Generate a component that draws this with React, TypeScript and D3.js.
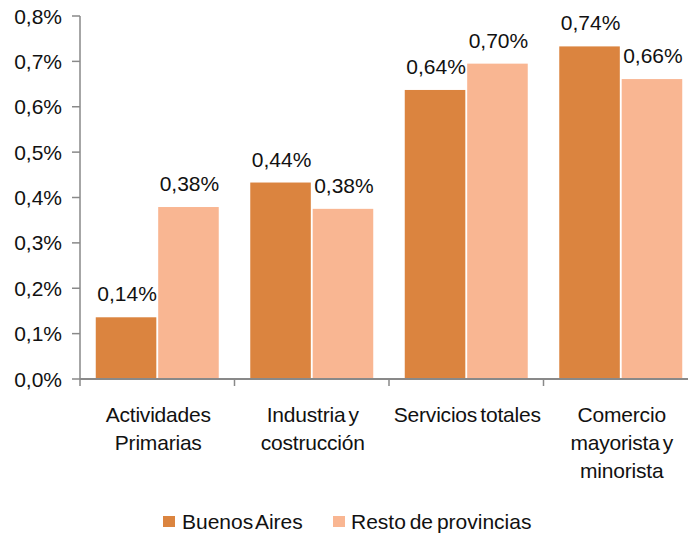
import React from "react";
import * as d3 from "d3";

const categories = ["Actividades Primarias", "Industria y costrucción", "Servicios totales", "Comercio mayorista y minorista"];
const categoryLines = [["Actividades", "Primarias"], ["Industria y", "costrucción"], ["Servicios totales"], ["Comercio", "mayorista y", "minorista"]];
const seriesNames = ["Buenos Aires", "Resto de provincias"];
const buenosAires = [0.136, 0.433, 0.637, 0.733];
const restoProvincias = [0.379, 0.375, 0.695, 0.661];
const buenosAiresLabels = ["0,14%", "0,44%", "0,64%", "0,74%"];
const restoLabels = ["0,38%", "0,38%", "0,70%", "0,66%"];
const yTicks = [0, 0.1, 0.2, 0.3, 0.4, 0.5, 0.6, 0.7, 0.8];
const colors = ["#DB843F", "#F9B692"];

const W = 688, H = 534;
const left = 80, right = 698, top = 16, bottom = 379;
const FONT = "'Liberation Sans', Arial, sans-serif";

export default function App() {
  const y = d3.scaleLinear().domain([0, 0.8]).range([bottom, top]);
  const x0 = d3.scaleBand<string>().domain(categories).range([left, right]).paddingInner(0.204).paddingOuter(0.102);
  const x1 = d3.scaleBand<string>().domain(seriesNames).range([0, x0.bandwidth()]).paddingInner(0.03);
  const series = [buenosAires, restoProvincias];
  const labels = [buenosAiresLabels, restoLabels];
  const step = x0.step();
  const boundaries = d3.range(categories.length).map((i) => left + i * step);
  const fmt = (v: number) => d3.format(".1f")(v * 100 / 100).replace(".", ",") + "%";

  return (
    <svg width={W} height={H} style={{ position: "absolute", left: 0, top: 0, fontFamily: FONT }}>
      <rect x={0} y={0} width={W} height={H} fill="#fff" />
      {categories.map((c, i) => (
        <g key={c} transform={`translate(${x0(c)},0)`}>
          {seriesNames.map((s, j) => {
            const v = series[j][i];
            return (
              <g key={s}>
                <rect x={x1(s)} y={y(v)} width={x1.bandwidth()} height={bottom - y(v)} fill={colors[j]} />
                <text x={(x1(s) as number) + x1.bandwidth() / 2 + 1} y={y(v) - 16} textAnchor="middle" fontSize={21} fill="#111">
                  {labels[j][i]}
                </text>
              </g>
            );
          })}
        </g>
      ))}
      <line x1={left} x2={left} y1={top} y2={bottom} stroke="#898989" strokeWidth={1.5} />
      {yTicks.map((t) => (
        <g key={t}>
          <line x1={left - 8} x2={left} y1={y(t)} y2={y(t)} stroke="#898989" strokeWidth={1.5} />
          <text x={62} y={y(t)} dy="0.36em" textAnchor="end" fontSize={21} fill="#111">
            {fmt(t)}
          </text>
        </g>
      ))}
      <line x1={left} x2={W} y1={bottom} y2={bottom} stroke="#898989" strokeWidth={2} />
      {boundaries.map((b, i) => (
        <line key={i} x1={b} x2={b} y1={bottom} y2={bottom + 7} stroke="#898989" strokeWidth={1.5} />
      ))}
      {categories.map((c, i) => (
        <text key={c} x={(x0(c) as number) + x0.bandwidth() / 2 + 1} y={422} textAnchor="middle" fontSize={21} fill="#111" letterSpacing={-0.2} wordSpacing={-2.5}>
          {categoryLines[i].map((ln, k) => (
            <tspan key={k} x={(x0(c) as number) + x0.bandwidth() / 2 + 1} y={422 + k * 28}>
              {ln}
            </tspan>
          ))}
        </text>
      ))}
      <rect x={163} y={516} width={12} height={11} fill={colors[0]} />
      <text x={182} y={529} fontSize={21} fill="#111" wordSpacing={-3}>{seriesNames[0]}</text>
      <rect x={333} y={516} width={12} height={11} fill={colors[1]} />
      <text x={351} y={529} fontSize={21} fill="#111" wordSpacing={-2}>{seriesNames[1]}</text>
    </svg>
  );
}
